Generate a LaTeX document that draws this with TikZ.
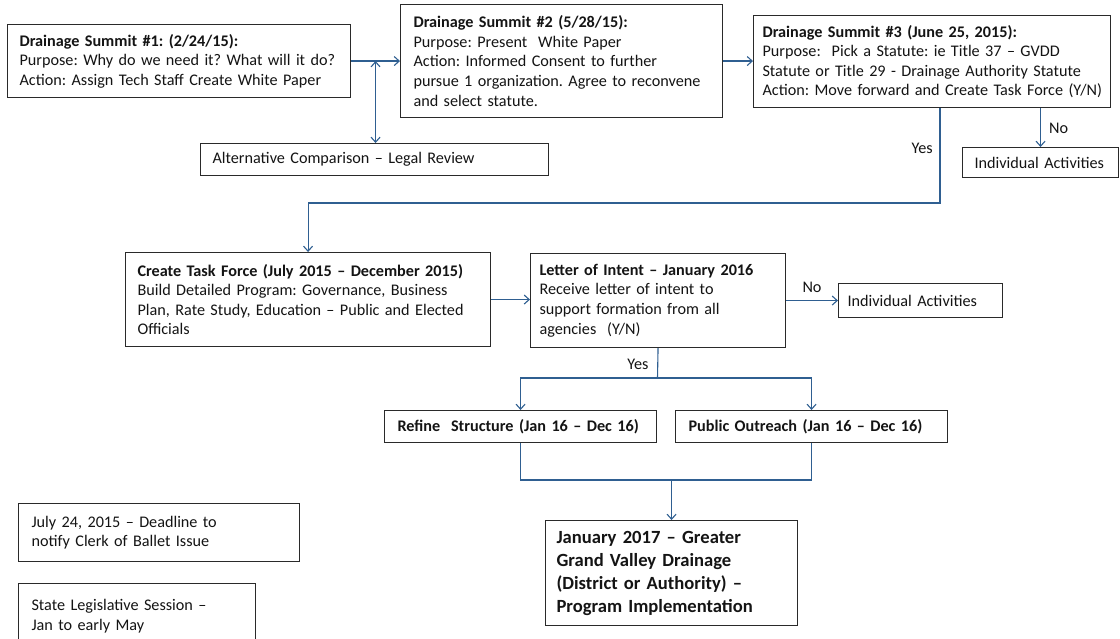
\documentclass[tikz,border=0pt]{standalone}
\usepackage{fontspec}
\setmainfont{Carlito}
\usetikzlibrary{arrows.meta}
\definecolor{boxc}{HTML}{2A2A2A}
\definecolor{linkc}{HTML}{2F5F91}
\definecolor{inkc}{HTML}{141414}
\newcommand{\bodyfont}{\fontsize{16.2}{19.6}\selectfont\frenchspacing}
\newcommand{\bigfont}{\fontsize{18.6}{23}\selectfont\bfseries\frenchspacing}
\tikzset{
  box/.style={draw=boxc, line width=1.1pt, fill=white, text=inkc,
    inner xsep=12pt, inner ysep=2pt, align=left, anchor=north west,
    font=\bodyfont},
  arr/.style={draw=linkc, line width=1.1pt, -{Straight Barb[length=5pt,width=9pt]}},
  arrtwo/.style={draw=linkc, line width=1.1pt,
    {Straight Barb[length=5pt,width=9pt]}-{Straight Barb[length=5pt,width=9pt]}},
  link/.style={draw=linkc, line width=1.1pt},
  lbl/.style={font=\bodyfont, text=inkc, inner sep=0pt}
}
\begin{document}
\begin{tikzpicture}[x=1pt,y=-1pt]
\useasboundingbox (0,0) rectangle (1120,639);
\fill[white] (0,0) rectangle (1120,639);

% --- summits
\node[box, minimum width=343pt, minimum height=73pt, text width=319pt] (s1) at (7,24)
  {\textbf{Drainage Summit \#1: (2/24/15):}\\
   Purpose: Why do we need it? What will it do?\\
   Action: Assign Tech Staff Create White Paper};
\node[box, minimum width=322pt, minimum height=113pt, text width=296pt, inner xsep=13pt] (s2) at (400,4)
  {\textbf{Drainage Summit \#2 (5/28/15):}\\
   Purpose: Present\ \ White Paper\\
   Action: Informed Consent to further\\
   pursue 1 organization. Agree to reconvene\\
   and select statute.};
\node[box, minimum width=357pt, minimum height=92pt, text width=349pt, inner xsep=4pt] (s3) at (753,15)
  {\hspace*{5pt}\textbf{Drainage Summit \#3 (June 25, 2015):}\\
   \hspace*{5pt}Purpose:\ \ Pick a Statute: ie Title 37 -- GVDD\\
   \hspace*{5pt}Statute or Title 29 - Drainage Authority Statute\\
   \hspace*{5pt}Action: Move forward and Create Task Force (Y/N)};

\node[box, minimum width=348pt, minimum height=32pt, text width=324pt] (alt) at (200,143)
  {Alternative Comparison -- Legal Review};
\node[box, minimum width=156pt, minimum height=30pt, text width=132pt] (ind1) at (962,147)
  {Individual Activities};

% --- task force and letter of intent
\node[box, minimum width=365pt, minimum height=94pt, text width=341pt] (task) at (125,252)
  {\textbf{Create Task Force (July 2015 -- December 2015)}\\
   Build Detailed Program: Governance, Business\\
   Plan, Rate Study, Education -- Public and Elected\\
   Officials};
\node[box, minimum width=255pt, minimum height=94pt, text width=237pt, inner xsep=9pt] (loi) at (530,253)
  {\textbf{Letter of Intent -- January 2016}\\
   Receive letter of intent to\\
   support formation from all\\
   agencies\ \ (Y/N)};
\node[box, minimum width=164pt, minimum height=34pt, text width=146pt, inner xsep=9pt] (ind2) at (838,283)
  {Individual Activities};

% --- 2016 work streams
\node[box, minimum width=272pt, minimum height=32pt, text width=246pt, inner xsep=13pt] (refine) at (384,410)
  {\textbf{Refine\ \ Structure (Jan 16 -- Dec 16)}};
\node[box, minimum width=272pt, minimum height=32pt, text width=246pt, inner xsep=13pt] (public) at (675,410)
  {\textbf{Public Outreach (Jan 16 -- Dec 16)}};

\node[box, minimum width=252pt, minimum height=105pt, text width=230pt, inner xsep=11pt, font=\bigfont] (final) at (545,520)
  {January 2017 -- Greater\\
   Grand Valley Drainage\\
   (District or Authority) --\\
   Program Implementation};

% --- side notes
\node[box, minimum width=281pt, minimum height=58pt, text width=255pt, inner xsep=13pt] (dead) at (18,503)
  {July 24, 2015 -- Deadline to\\
   notify Clerk of Ballet Issue};
\node[box, minimum width=237pt, minimum height=70pt, text width=211pt, inner xsep=13pt, inner ysep=0pt,
      text depth=27pt] (state) at (18,583)
  {State Legislative Session --\\
   Jan to early May};

% --- connectors
\draw[arr] (s1.east) -- (s2.west);
\path (s1.east) -- (s2.west) coordinate[pos=0.5] (j1);
\draw[arrtwo] (j1) -- (j1 |- alt.north);
\draw[arr] (s2.east) -- (s3.west |- s2.east);

\draw[arr] (ind1.north |- s3.south) -- (ind1.north);
\node[lbl, anchor=west] (no1) at (1049,128) {No};

\coordinate (yb) at (940,203);
\draw[arr] (s3.south -| yb) -- (yb) -| (task.north);
\node[lbl, anchor=east] (yes1) at (933,148) {Yes};

\draw[arr] (task.east) -- (loi.west |- task.east);
\draw[arr] (loi.east) -- (ind2.west |- loi.east);
\node[lbl] (no2) at (812,287) {No};

\coordinate (sp) at (657.5,378);
\draw[link] (loi.south) -- (sp);
\draw[arr] (sp) -| (refine.north);
\draw[arr] (sp) -| (public.north);
\node[lbl] (yes2) at (638,364) {Yes};

\coordinate (mg) at (671,480);
\draw[link] (refine.south) -- (refine.south |- mg) -- (public.south |- mg) -- (public.south);
\draw[arr] (final.north |- mg) -- (final.north);
\end{tikzpicture}
\end{document}
